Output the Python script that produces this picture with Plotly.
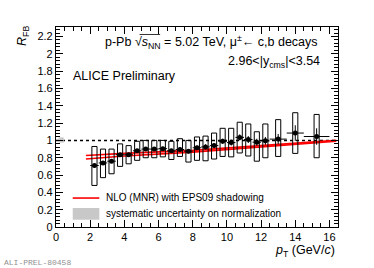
import plotly.graph_objects as go

# ---- data ----
pt = [2.25, 2.75, 3.25, 3.75, 4.25, 4.75, 5.25, 5.75, 6.25, 6.75, 7.25, 7.75,
      8.25, 8.75, 9.25, 9.75, 10.25, 10.75, 11.25, 11.75, 12.25, 13.0, 14.0, 15.25]
pt_halfwidth = [0.25] * 21 + [0.5, 0.5, 0.75]
rfb = [0.71, 0.74, 0.76, 0.835, 0.835, 0.88, 0.90, 0.90, 0.905, 0.88, 0.895, 0.875,
       0.915, 0.925, 0.94, 0.99, 0.975, 1.035, 1.01, 0.98, 0.995, 1.015, 1.085, 1.045]
stat = [0.02, 0.02, 0.02, 0.02, 0.02, 0.02, 0.02, 0.02, 0.02, 0.02, 0.025, 0.025,
        0.025, 0.03, 0.03, 0.03, 0.035, 0.035, 0.04, 0.04, 0.045, 0.06, 0.09, 0.095]
sys_lo = [0.48, 0.57, 0.615, 0.70, 0.73, 0.77, 0.80, 0.80, 0.81, 0.78, 0.815, 0.75,
          0.77, 0.765, 0.785, 0.815, 0.81, 0.855, 0.82, 0.76, 0.80, 0.815, 0.85, 0.80]
sys_hi = [0.93, 0.90, 0.90, 0.96, 0.94, 0.99, 1.00, 1.00, 1.00, 0.99, 1.02, 1.00,
          1.04, 1.05, 1.085, 1.14, 1.14, 1.21, 1.19, 1.10, 1.19, 1.24, 1.32, 1.30]

nlo_pt = [1.75, 4.0, 8.0, 12.0, 16.4]
nlo_hi = [0.825, 0.85, 0.885, 0.94, 1.00]
nlo_lo = [0.785, 0.82, 0.865, 0.925, 0.99]

norm_x = [0.15, 0.45]
norm_lo = 0.975
norm_hi = 1.035

BOX_HW = 0.15
FONT = "Liberation Sans, Arial, Helvetica, sans-serif"

# plot-area pixel frame (page coordinates)
PL, PR, PT, PB = 56, 337.7, 27, 227.3

fig = go.Figure()

# dotted line at unity
fig.add_trace(go.Scatter(x=[0, 16.5], y=[1, 1], mode="lines",
                         line=dict(color="black", width=1.5, dash="dot"),
                         hoverinfo="skip", showlegend=False))

# normalization uncertainty box
fig.add_trace(go.Scatter(x=[norm_x[0], norm_x[1], norm_x[1], norm_x[0], norm_x[0]],
                         y=[norm_lo, norm_lo, norm_hi, norm_hi, norm_lo],
                         mode="lines", fill="toself", fillcolor="#c8c8c8",
                         line=dict(width=0, color="#c8c8c8"),
                         hoverinfo="skip", showlegend=False))

# NLO band (two red lines)
for ys in (nlo_hi, nlo_lo):
    fig.add_trace(go.Scatter(x=nlo_pt, y=ys, mode="lines",
                             line=dict(color="#ff0000", width=1.6),
                             hoverinfo="skip", showlegend=False))

# systematic boxes
bx, by = [], []
for x, lo, hi in zip(pt, sys_lo, sys_hi):
    bx += [x - BOX_HW, x + BOX_HW, x + BOX_HW, x - BOX_HW, x - BOX_HW, None]
    by += [lo, lo, hi, hi, lo, None]
fig.add_trace(go.Scatter(x=bx, y=by, mode="lines",
                         line=dict(color="black", width=1),
                         hoverinfo="skip", showlegend=False))

# data points with stat errors
fig.add_trace(go.Scatter(x=pt, y=rfb, mode="markers",
                         marker=dict(color="black", size=5, symbol="circle"),
                         error_x=dict(type="data", array=pt_halfwidth, width=0,
                                      thickness=1, color="black"),
                         error_y=dict(type="data", array=stat, width=0,
                                      thickness=1, color="black"),
                         showlegend=False))

axis_common = dict(showgrid=False, zeroline=False, ticks="inside", mirror="allticks",
                   showline=True, linecolor="black", linewidth=1.2,
                   tickcolor="black", tickwidth=1, ticklen=7,
                   tickfont=dict(family=FONT, size=11, color="black"))

fig.update_xaxes(range=[0, 16.5], dtick=2, tick0=0,
                 minor=dict(dtick=0.5, ticklen=4, tickcolor="black", ticks="inside"),
                 **axis_common)
fig.update_yaxes(range=[0, 2.31], dtick=0.2, tick0=0, tickformat="~g",
                 minor=dict(dtick=0.04, ticklen=4, tickcolor="black", ticks="inside"),
                 **axis_common)


def px2paper(x, y):
    return (x - PL) / (PR - PL), (PB - y) / (PB - PT)


ann = [
    dict(text="p-Pb √<i>s</i><sub>NN</sub> = 5.02 TeV, μ<sup>±</sup>← c,b decays",
         x=320, y=42, xanchor="right", size=12.5),
    dict(text="2.96<|y<sub>cms</sub>|<3.54", x=322, y=62, xanchor="right", size=12.5),
    dict(text="ALICE Preliminary", x=71, y=76, xanchor="left", size=12.5),
    dict(text="NLO (MNR) with EPS09 shadowing", x=104, y=198, xanchor="left", size=10),
    dict(text="systematic uncertainty on normalization", x=104, y=214, xanchor="left", size=10),
    dict(text="<i>p</i><sub>T</sub> (GeV/<i>c</i>)", x=337, y=251, xanchor="right", size=12.5),
    dict(text="<i>R</i><sub>FB</sub>", x=23, y=36, xanchor="center", size=12.5, angle=-90),
    dict(text="ALI-PREL-80458", x=2, y=263, xanchor="left", size=8,
         family="Liberation Mono, Courier New, monospace", color="#909090"),
]

for a in ann:
    px, py = px2paper(a["x"], a["y"])
    fig.add_annotation(text=a["text"], xref="paper", yref="paper",
                       x=px, y=py, xanchor=a["xanchor"], yanchor="middle",
                       showarrow=False, textangle=a.get("angle", 0),
                       font=dict(family=a.get("family", FONT), size=a["size"],
                                 color=a.get("color", "black")))

# overline of the square-root sign
ox0, oy0 = px2paper(139.5, 34.5)
ox1, _ = px2paper(160, 34.5)
fig.add_shape(type="line", xref="paper", yref="paper", x0=ox0, x1=ox1, y0=oy0, y1=oy0,
              line=dict(color="black", width=0.8))

# legend samples
x0, y0 = px2paper(72.7, 198.3)
x1, _ = px2paper(99.3, 198.3)
fig.add_shape(type="line", xref="paper", yref="paper", x0=x0, x1=x1, y0=y0, y1=y0,
              line=dict(color="#ff0000", width=1.6))
gx0, gy0 = px2paper(72.7, 220)
gx1, gy1 = px2paper(99.3, 208.3)
fig.add_shape(type="rect", xref="paper", yref="paper", x0=gx0, x1=gx1, y0=gy0, y1=gy1,
              fillcolor="#c8c8c8", line=dict(width=0))

W, H = 374, 268
fig.update_layout(width=W, height=H,
                  margin=dict(l=PL, r=W - PR, t=PT, b=H - PB, autoexpand=False),
                  plot_bgcolor="white", paper_bgcolor="white", showlegend=False,
                  font=dict(family=FONT, size=11, color="black"))

fig.write_html("out.html", config={"displayModeBar": False},
               post_script="document.body.style.margin='0px';document.body.style.overflow='hidden';")
